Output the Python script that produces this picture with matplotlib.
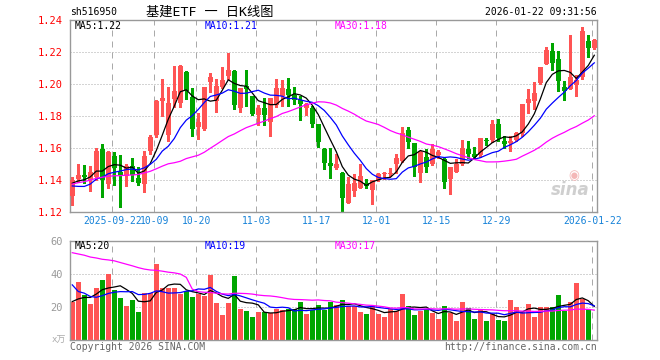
import numpy as np
import pandas as pd
import matplotlib
matplotlib.use('Agg')
import matplotlib.pyplot as plt

plt.rcParams['font.family'] = ['DejaVu Sans Mono', 'Noto Sans CJK SC']

# daily candles, 2025-09-11 .. 2026-01-22 (index 0..87)
opens = [1.130, 1.1406, 1.1433, 1.1402, 1.142, 1.1596, 1.1377, 1.1552, 1.1448, 1.1423,
         1.1485, 1.1413, 1.1377, 1.1579, 1.1683, 1.1896, 1.1683, 1.1906, 1.1881, 1.2077,
         1.1919, 1.1731, 1.1717, 1.2015, 1.1895, 1.1981, 1.205, 1.2085, 1.1852, 1.1988,
         1.1925, 1.181, 1.1852, 1.1765, 1.1869, 1.1928, 1.1967, 1.1931, 1.1898, 1.1848,
         1.1852, 1.1748, 1.1596, 1.1504, 1.1477, 1.1446, 1.1258, 1.1331, 1.1352, 1.1379,
         1.1338, 1.140, 1.1435, 1.1435, 1.1498, 1.1519, 1.1713, 1.1633, 1.1446, 1.1544,
         1.1498, 1.1554, 1.153, 1.1404, 1.1452, 1.1498, 1.1596, 1.1565, 1.1556, 1.1648,
         1.1648, 1.1748, 1.1644, 1.1633, 1.1648, 1.1696, 1.1883, 1.1894, 1.2008, 1.2129,
         1.221, 1.2158, 1.1983, 1.1967, 1.1998, 1.2044, 1.2269, 1.2227]
highs = [1.142, 1.150, 1.1496, 1.1485, 1.160, 1.1627, 1.1583, 1.1577, 1.1558, 1.1502,
         1.1535, 1.148, 1.1579, 1.1683, 1.1902, 1.2033, 1.1985, 1.2115, 1.212, 1.208,
         1.1975, 1.1819, 1.1983, 1.2069, 1.203, 1.211, 1.2196, 1.2088, 1.1977, 1.2087,
         1.1927, 1.187, 1.1915, 1.1915, 1.2031, 1.2029, 1.204, 1.1985, 1.1925, 1.1883,
         1.1863, 1.175, 1.160, 1.1602, 1.1565, 1.145, 1.1419, 1.1435, 1.1498, 1.1404,
         1.140, 1.1445, 1.1452, 1.1475, 1.1565, 1.1731, 1.1733, 1.1635, 1.1583, 1.1592,
         1.1623, 1.159, 1.1535, 1.1481, 1.1529, 1.165, 1.1644, 1.161, 1.1665, 1.1665,
         1.1779, 1.178, 1.1675, 1.1675, 1.170, 1.1877, 1.1973, 1.2013, 1.2106, 1.2233,
         1.2258, 1.2206, 1.2019, 1.231, 1.206, 1.2356, 1.231, 1.2285]
lows = [1.1241, 1.139, 1.1381, 1.1329, 1.140, 1.1294, 1.135, 1.1371, 1.1229, 1.136,
        1.1392, 1.1371, 1.1323, 1.156, 1.167, 1.1798, 1.1642, 1.186, 1.186, 1.1906,
        1.1673, 1.1658, 1.1712, 1.1954, 1.1829, 1.1975, 1.2035, 1.1842, 1.1823, 1.1862,
        1.181, 1.1746, 1.1744, 1.1675, 1.186, 1.1863, 1.1863, 1.1879, 1.1779, 1.181,
        1.1731, 1.1606, 1.1467, 1.1415, 1.147, 1.1206, 1.1255, 1.130, 1.135, 1.1348,
        1.1248, 1.1395, 1.1404, 1.1425, 1.1446, 1.1515, 1.1602, 1.1425, 1.139, 1.145,
        1.1495, 1.154, 1.1348, 1.131, 1.145, 1.1495, 1.154, 1.153, 1.1544, 1.1621,
        1.164, 1.1644, 1.1598, 1.1581, 1.1645, 1.1675, 1.1821, 1.1842, 1.200, 1.2125,
        1.2088, 1.196, 1.1904, 1.1967, 1.1925, 1.203, 1.2169, 1.222]
closes = [1.140, 1.1433, 1.1417, 1.1448, 1.1583, 1.1398, 1.1577, 1.1475, 1.1433, 1.149,
          1.1433, 1.1381, 1.1548, 1.1667, 1.1896, 1.1913, 1.1881, 1.1958, 1.2115, 1.196,
          1.1717, 1.1765, 1.1983, 1.2044, 1.199, 1.2029, 1.2092, 1.1869, 1.1977, 1.1971,
          1.1815, 1.1852, 1.1806, 1.1915, 1.1977, 1.1975, 1.1931, 1.1904, 1.1877, 1.1877,
          1.1752, 1.164, 1.1508, 1.1488, 1.1498, 1.1287, 1.1373, 1.1383, 1.1425, 1.1363,
          1.140, 1.1435, 1.1442, 1.1444, 1.1535, 1.1696, 1.1638, 1.1481, 1.1575, 1.1481,
          1.1596, 1.1577, 1.1388, 1.1481, 1.1498, 1.1602, 1.1565, 1.1544, 1.1665, 1.1644,
          1.1752, 1.1665, 1.1627, 1.1644, 1.1696, 1.1877, 1.191, 1.1946, 1.2106, 1.2213,
          1.2133, 1.2019, 1.196, 1.2044, 1.2025, 1.2331, 1.2227, 1.2279]
volumes = [23.4, 35, 27.5, 22, 31.7, 36.6, 40.2, 30.5, 25.7, 20.8,
           24.4, 16.8, 28.7, 28.5, 46.3, 31.7, 31.7, 31.7, 27.7, 29.7,
           26.1, 28.1, 26.7, 39.6, 22.4, 15.5, 22.4, 39, 18.8, 18,
           14.1, 17.2, 16.8, 16.4, 18.8, 18.5, 19.2, 19.2, 23.2, 15.6,
           18.6, 21.2, 18.6, 23.2, 21.2, 24.4, 20.8, 20.8, 17.2, 16,
           20.8, 15.6, 14.1, 19.2, 17.6, 27.7, 21, 15, 17.6, 19.2,
           16.2, 12.9, 21, 16.2, 11.9, 23.2, 19.6, 12.9, 18.8, 11.9,
           15.6, 12.5, 11.9, 24.2, 20, 17, 22, 14.1, 20.2, 20.2,
           20.2, 27.5, 17.6, 23.2, 34.7, 25, 19, 0.4]

# closes / volumes of the 29 sessions before the window, backed out of the MA lines
pre_close = [1.118, 1.122, 1.116, 1.124, 1.120, 1.140, 1.138, 1.141, 1.139, 1.141,
             1.128, 1.126, 1.136, 1.143, 1.141, 1.144, 1.176, 1.184, 1.145, 1.140,
             1.146, 1.142, 1.130, 1.127, 1.128, 1.136, 1.138, 1.136, 1.140]
pre_vol = [58, 50, 55, 49, 60, 52, 47, 56, 51, 54, 50, 55, 45, 52, 47, 50, 44, 49,
           90, 239, 75, 37.5, 42, 36.7, 26.6, 27, 23, 22, 21.6]

tick_idx = [7, 14, 21, 31, 41, 51, 61, 71, 87]
tick_labels = ['2025-09-22', '10-09', '10-20', '11-03', '11-17', '12-01', '12-15', '12-29', '2026-01-22']
price_ticks = [1.12, 1.14, 1.16, 1.18, 1.20, 1.22, 1.24]
vol_ticks = [20, 40, 60]

RED, GREEN = '#ff5454', '#00a600'
MA_COLORS = {5: 'black', 10: 'blue', 30: '#ff00ff'}
GRID = '#aaaaaa'

W, H = 660, 360


def moving_avg(pre, vals, n):
    s = pd.Series(list(pre) + list(vals)).rolling(n).mean().values
    return s[len(pre):]


def px(x, y):
    return x / W, 1 - y / H


def style_axes(ax):
    for sp in ax.spines.values():
        sp.set_color('#999999')
        sp.set_linewidth(1.0)
    ax.tick_params(length=0)
    for i in tick_idx:
        ax.axvline(i - 0.33, color=GRID, lw=0.72, ls=(0, (6, 5)), zorder=0)


x = np.arange(len(closes))
o, h, l, c = map(np.array, (opens, highs, lows, closes))
v = np.array(volumes)
up = c >= o
colors = np.where(up, RED, GREEN)

fig = plt.figure(figsize=(W / 100, H / 100), dpi=100, facecolor='white')
ax_p = fig.add_axes([70 / W, 1 - 212 / H, 527 / W, 192.5 / H])
ax_v = fig.add_axes([70 / W, 1 - 340.3 / H, 527 / W, 99.8 / H])

# --- price panel
style_axes(ax_p)
for y in price_ticks[1:-1]:
    ax_p.axhline(y, color=GRID, lw=0.72, ls=(0, (1, 2)), zorder=0)
ax_p.vlines(x, l, h, colors=colors, lw=1.0, zorder=2, antialiased=False)
body = np.maximum(np.abs(c - o), 0.0003)
ax_p.bar(x, body, bottom=np.minimum(o, c), width=0.76, color=colors, zorder=3,
         antialiased=False)
for n, col in MA_COLORS.items():
    ax_p.plot(x, moving_avg(pre_close, closes, n), color=col, lw=0.9, zorder=4)
ax_p.set_xlim(-0.38, 87.45)
ax_p.set_ylim(1.12, 1.2405)
ax_p.set_yticks(price_ticks)
ax_p.set_yticklabels([f'{t:.2f}' for t in price_ticks])
ax_p.tick_params(axis='y', labelsize=7.5, labelcolor='red', pad=5)
ax_p.set_xticks([i - 0.33 for i in tick_idx])
ax_p.set_xticklabels(tick_labels)
ax_p.tick_params(axis='x', labelsize=7, labelcolor='#1682d8', pad=3)

# sina watermark
ax_p.text(0.985, 0.07, 'sina', transform=ax_p.transAxes, ha='right', va='bottom',
          fontsize=12, fontweight='bold', fontstyle='italic', color='#cfcfcf',
          family='DejaVu Sans', zorder=1)
ax_p.text(0.955, 0.19, '\u25c9', transform=ax_p.transAxes, ha='center', va='center',
          fontsize=9, color='#f4b8b8', family='DejaVu Sans', zorder=1)

# --- volume panel
style_axes(ax_v)
for y in vol_ticks[:-1]:
    ax_v.axhline(y, color=GRID, lw=0.72, ls=(0, (1, 2)), zorder=0)
ax_v.bar(x, v, width=0.8, color=colors, zorder=2, antialiased=False)
for n, col in MA_COLORS.items():
    ax_v.plot(x, moving_avg(pre_vol, volumes, n), color=col, lw=0.9, zorder=4)
ax_v.set_xlim(-0.38, 87.45)
ax_v.set_ylim(0, 60.3)
ax_v.set_xticks([])
ax_v.set_yticks(vol_ticks)
ax_v.set_yticklabels([str(t) for t in vol_ticks])
ax_v.tick_params(axis='y', labelsize=7.5, labelcolor='#999999', pad=5)

# --- texts
fig.text(*px(70, 12), 'sh516950', fontsize=7, va='center', ha='left')
fig.text(*px(210, 12), '基建ETF 一 日K线图', fontsize=9.5, va='center', ha='center')
fig.text(*px(597, 12), '2026-01-22 09:31:56', fontsize=7, va='center', ha='right')

fig.text(*px(75, 26), 'MA5:1.22', fontsize=7, va='center', color='black')
fig.text(*px(205, 26), 'MA10:1.21', fontsize=7, va='center', color='blue')
fig.text(*px(335, 26), 'MA30:1.18', fontsize=7, va='center', color='#ff00ff')
fig.text(*px(75, 246), 'MA5:20', fontsize=7, va='center', color='black')
fig.text(*px(205, 246), 'MA10:19', fontsize=7, va='center', color='blue')
fig.text(*px(335, 246), 'MA30:17', fontsize=7, va='center', color='#ff00ff')

fig.text(*px(66, 340), 'x万', fontsize=6.5, va='center', ha='right', color='#aaaaaa')
fig.text(*px(70, 347), 'Copyright 2026 SINA.COM', fontsize=7, va='center', ha='left', color='#666666')
fig.text(*px(597, 347), 'http://finance.sina.com.cn', fontsize=7, va='center', ha='right', color='#666666')

fig.savefig('out.png', dpi=100, facecolor='white')
plt.close(fig)
